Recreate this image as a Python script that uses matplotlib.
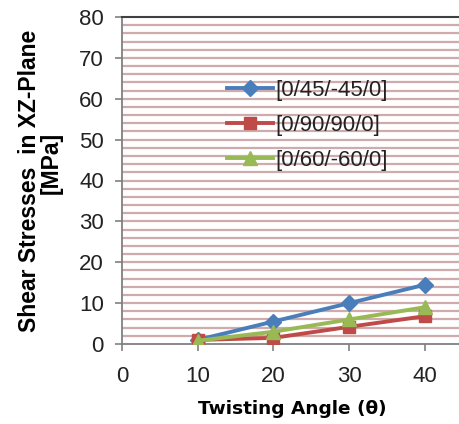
import numpy as np
from matplotlib import pyplot as plt

# data
angle = [10, 20, 30, 40]
s_45 = [1.0, 5.5, 10.0, 14.5]
s_90 = [1.0, 1.5, 4.2, 6.8]
s_60 = [0.8, 3.0, 6.0, 9.0]
labels = ['[0/45/-45/0]', '[0/90/90/0]', '[0/60/-60/0]']

fig = plt.figure(figsize=(4.6, 4.24), dpi=100)
ax = fig.add_axes([122/460, 1 - 344/424, (459 - 122)/460, (344 - 17)/424])

# stripes every 2 MPa
for g in np.arange(2, 80, 2):
    ax.axhline(g, color='#d0abab', lw=1.6, zorder=0)

ax.plot(angle, s_45, color='#4a7ebb', lw=2.8, marker='D', ms=8.5, label=labels[0], zorder=3)
ax.plot(angle, s_90, color='#be4b48', lw=2.8, marker='s', ms=8, label=labels[1], zorder=3)
ax.plot(angle, s_60, color='#98b954', lw=2.8, marker='^', ms=9.5, label=labels[2], zorder=3)

ax.set_xlim(0, 44.5)
ax.set_ylim(0, 80)
ax.set_xticks([0, 10, 20, 30, 40])
ax.set_yticks(np.arange(0, 81, 10))

tick_font = dict(family='Liberation Sans', size=16, color='#222222')
ax.set_xticklabels([str(t) for t in [0, 10, 20, 30, 40]], **tick_font)
ax.set_yticklabels([str(t) for t in range(0, 81, 10)], **tick_font)
ax.tick_params(axis='both', direction='out', length=5, width=1.2, color='#808080')
ax.tick_params(axis='x', pad=11)
ax.tick_params(axis='y', pad=8)

ax.spines['left'].set_color('#808080')
ax.spines['left'].set_linewidth(1.3)
ax.spines['bottom'].set_color('#808080')
ax.spines['bottom'].set_linewidth(1.3)
ax.spines['top'].set_color('#404040')
ax.spines['top'].set_linewidth(1.5)
ax.spines['right'].set_color('#c8c8c8')

fig.text(30/460, 1 - 181/424, 'Shear Stresses  in XZ-Plane', rotation=90,
         ha='center', va='center', family='Liberation Sans', weight='bold', size=16.5)
fig.text(51/460, 1 - 163/424, '[MPa]', rotation=90,
         ha='center', va='center', family='Liberation Sans', weight='bold', size=16.5)
fig.text(292/460, 1 - 409/424, 'Twisting Angle (\u03b8)', ha='center', va='center',
         family='DejaVu Sans', weight='bold', size=13.3)

leg = ax.legend(loc='upper left', bbox_to_anchor=(216/460, 1 - 69/424),
                bbox_transform=fig.transFigure, frameon=False, borderpad=0,
                handlelength=2.05, handletextpad=0.1, labelspacing=0.62,
                prop=dict(family='Liberation Sans', size=16))
for t in leg.get_texts():
    t.set_color('#222222')

fig.savefig('out.png', dpi=100)
